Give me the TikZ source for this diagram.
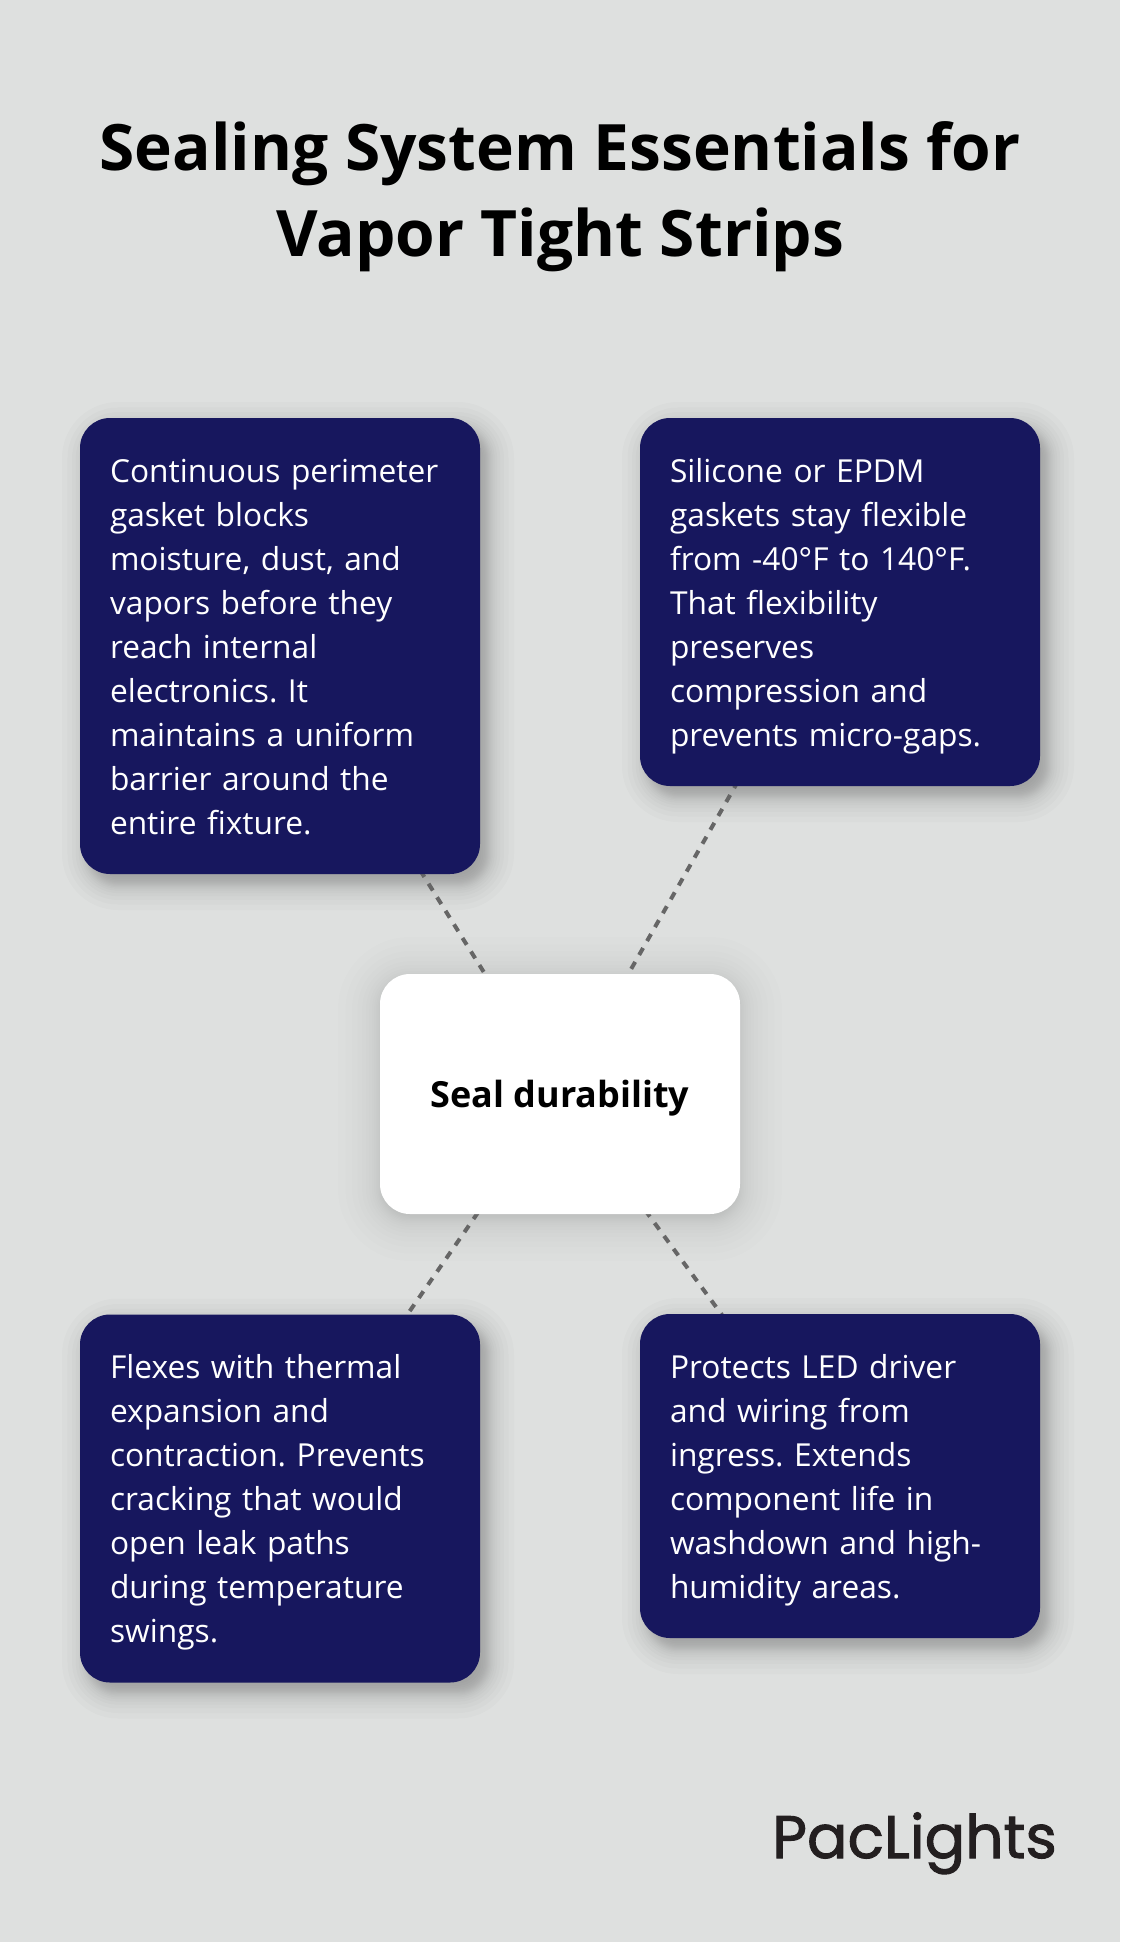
\documentclass[tikz,border=0pt]{standalone}
\usepackage{fontspec}
\setmainfont{Open Sans}
\newfontfamily\logofont[FakeBold=1.6]{Poppins}
\definecolor{bgc}{HTML}{DEE0DF}
\definecolor{navy}{HTML}{17175E}
\definecolor{dashc}{HTML}{666666}
\definecolor{logoc}{HTML}{231F20}
\newcommand{\linestrut}{\rule[-9.7pt]{0pt}{44pt}}
\newcommand{\softshadow}[7]{% cx cy w h blur layers layer-opacity
  \foreach \i in {0,...,#6}{
    \pgfmathsetmacro{\tt}{2*\i/#6-1}
    \pgfmathsetmacro{\e}{#5*\tt*(0.35+0.65*\tt*\tt)}
    \pgfmathsetmacro{\hw}{#3/2+\e}
    \pgfmathsetmacro{\hh}{#4/2+\e}
    \pgfmathsetmacro{\rr}{max(30+\e,2)}
    \fill[black,fill opacity=#7,rounded corners=\rr pt]
      ({#1-\hw},{#2-\hh}) rectangle ({#1+\hw},{#2+\hh});
  }
}
\tikzset{
  x=1pt,y=-1pt,
  card/.style={fill=navy,text=white,rounded corners=30pt,minimum width=400pt,
    text width=340pt,inner xsep=30pt,inner ysep=0pt,align=left,
    execute at begin node=\linestrut,execute at end node=\linestrut,
    font=\fontsize{31.7}{44}\selectfont\frenchspacing},
  hub/.style={fill=white,text=black,rounded corners=30pt,minimum width=360pt,minimum height=240pt,
    text height=30pt,text depth=4pt,
    font=\fontsize{36}{44}\selectfont\bfseries},
  heading/.style={text=black,inner sep=0pt,font=\fontsize{64}{85}\selectfont\bfseries},
  link/.style={draw=dashc,line width=4pt,dash pattern=on 8pt off 8pt},
  logo/.style={text=logoc,inner sep=0pt,font=\fontsize{60}{70}\logofont}
}
\begin{document}
\begin{tikzpicture}
\useasboundingbox (0,0) rectangle (1120,1942);
\fill[bgc] (0,0) rectangle (1120,1942);
\node[heading,anchor=base] (t1) at (560,171) {Sealing System Essentials for};
\node[heading,anchor=base] (t2) at (560,256.5) {Vapor Tight Strips};
\softshadow{288}{656}{400}{456}{26}{20}{0.017}
\softshadow{848}{612}{400}{368}{26}{20}{0.017}
\softshadow{288}{1508.5}{400}{368}{26}{20}{0.017}
\softshadow{848}{1486}{400}{324}{26}{20}{0.017}
\softshadow{560}{1099}{360}{240}{42}{24}{0.007}
\coordinate (ca) at (280,646);
\coordinate (cb) at (840,602);
\coordinate (cc) at (280,1498.5);
\coordinate (cd) at (840,1476);
\coordinate (cm) at (560,1094);
\draw[link] (cm) -- (ca);
\draw[link] (cm) -- (cb);
\draw[link] (cm) -- (cc);
\draw[link] (cm) -- (cd);
\node[card,minimum height=456pt] (a) at (ca) {Continuous perimeter\\gasket blocks\\moisture, dust, and\\vapors before they\\reach internal\\electronics. It\\maintains a uniform\\barrier around the\\entire fixture.};
\node[card,minimum height=368pt] (b) at (cb) {Silicone or EPDM\\gaskets stay flexible\\from -40°F to 140°F.\\That flexibility\\preserves\\compression and\\prevents micro-gaps.};
\node[card,minimum height=368pt] (c) at (cc) {Flexes with thermal\\expansion and\\contraction. Prevents\\cracking that would\\open leak paths\\during temperature\\swings.};
\node[card,minimum height=324pt] (d) at (cd) {Protects LED driver\\and wiring from\\ingress. Extends\\component life in\\washdown and high-\\humidity areas.};
\node[hub] (m) at (cm) {Seal durability};
\node[logo,anchor=base east] (l) at (1057,1858) {PacLights};
\end{tikzpicture}
\end{document}
